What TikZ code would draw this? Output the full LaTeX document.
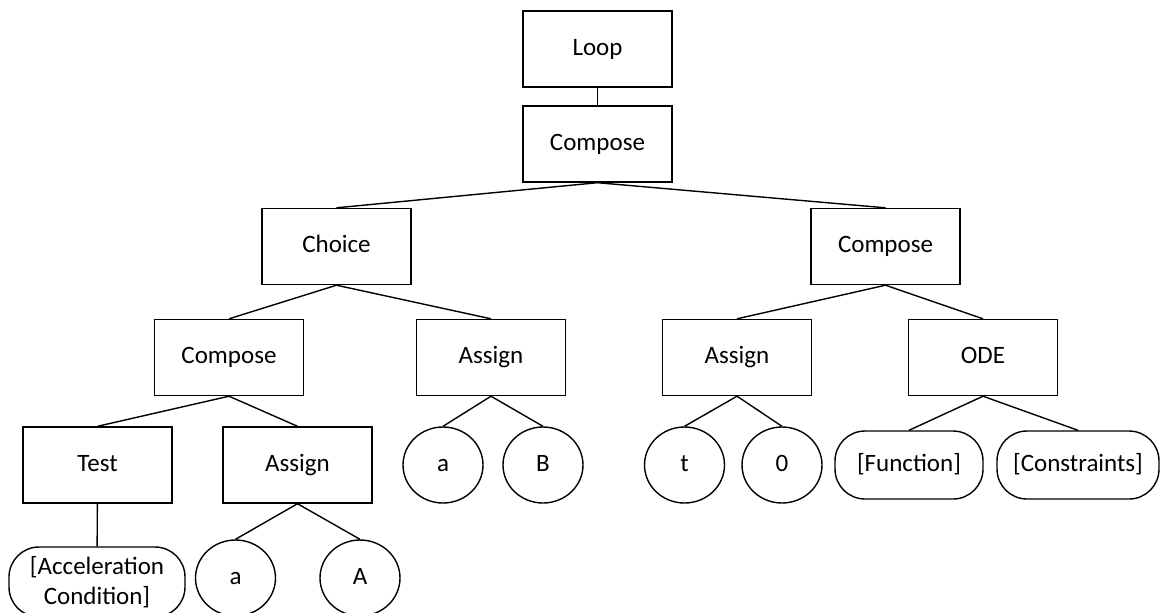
\documentclass[tikz,border=0pt]{standalone}
\usepackage{fontspec}
\setmainfont{Carlito}
\usetikzlibrary{shapes.geometric}

\begin{document}
\begin{tikzpicture}[x=0.5pt, y=-0.5pt,
    every node/.style={font=\fontsize{12.5}{15}\selectfont, inner sep=0pt},
    oneline/.style={text height=8.6pt, text depth=2.6pt},
    box/.style={rectangle, oneline, draw=black, line width=0.7pt, minimum width=74.5pt, minimum height=38pt},
    leaf/.style={ellipse, oneline, draw=black, line width=0.7pt, minimum width=40pt, minimum height=38pt},
    term/.style={rectangle, rounded corners=15pt, draw=black, line width=0.7pt, align=center, minimum height=34pt},
    edge/.style={draw=black, line width=0.7pt}]
\useasboundingbox (0,0) rectangle (1161,612);
\node[box] (loop) at (597.5,49) {Loop};
\node[box] (seq) at (597.5,144) {Compose};
\node[box] (choice) at (336.5,246.5) {Choice};
\node[box] (seqR) at (885.5,246.5) {Compose};
\node[box] (seqL) at (229,357.5) {Compose};
\node[box] (asgB) at (491,357.5) {Assign};
\node[box] (asgT) at (737,357.5) {Assign};
\node[box] (ode) at (983,357.5) {ODE};
\node[box] (test) at (97.5,465) {Test};
\node[box] (asgA) at (297.5,465) {Assign};
\node[leaf] (varB) at (443,465) {a};
\node[leaf] (valB) at (543,465) {B};
\node[leaf] (varT) at (684.5,465) {t};
\node[leaf] (valT) at (782,465) {0};
\node[term, oneline, minimum width=74pt] (func) at (909,465) {[Function]};
\node[term, oneline, minimum width=81pt] (cons) at (1078,465) {[Constraints]};
\node[term, minimum width=88pt, minimum height=35pt] (cond) at (97,582) {[Acceleration\\Condition]};
\node[leaf] (varA) at (235.5,578) {a};
\node[leaf] (valA) at (360,578) {A};
\draw[edge] (loop)--(seq);
\draw[edge] (seq.south)--(choice.north);\draw[edge] (seq.south)--(seqR.north);
\draw[edge] (choice.south)--(seqL.north);\draw[edge] (choice.south)--(asgB.north);
\draw[edge] (seqR.south)--(asgT.north);\draw[edge] (seqR.south)--(ode.north);
\draw[edge] (seqL.south)--(test.north);\draw[edge] (seqL.south)--(asgA.north);
\draw[edge] (asgB.south)--(varB.north);\draw[edge] (asgB.south)--(valB.north);
\draw[edge] (asgT.south)--(varT.north);\draw[edge] (asgT.south)--(valT.north);
\draw[edge] (ode.south)--(func.north);\draw[edge] (ode.south)--(cons.north);
\draw[edge] (test)--(cond);
\draw[edge] (asgA.south)--(varA.north);\draw[edge] (asgA.south)--(valA.north);
\end{tikzpicture}
\end{document}
